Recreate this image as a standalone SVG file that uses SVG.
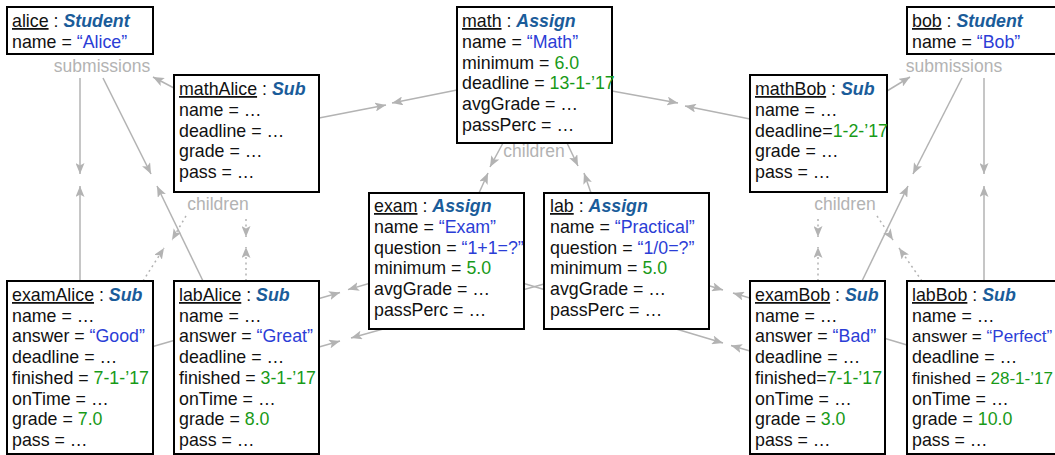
<svg xmlns="http://www.w3.org/2000/svg" width="1055" height="455" viewBox="0 0 1055 455">
<style>
.box{fill:#fff;stroke:#000;stroke-width:2}
text{font-family:"Liberation Sans",Arial,Helvetica,sans-serif;font-size:17.8px;fill:#111}
.sm{font-size:17.1px}
.cls{font-weight:bold;font-style:italic;fill:#1a5c9a}
.s{fill:#2b3dd6}
.n{fill:#189a18}
.u{text-decoration:underline}
.lbl{fill:#b3b3b3;text-anchor:middle;font-size:17.5px}
.c{stroke:#b3b3b3;stroke-width:1.5;fill:none;marker-end:url(#ah)}
.d{stroke-dasharray:2 3.5}
</style>
<defs>
<marker id="ah" markerUnits="userSpaceOnUse" markerWidth="12" markerHeight="9" refX="11" refY="4.5" orient="auto">
<path d="M0,0 L11,4.5 L0,9 L2.5,4.5 z" fill="#b3b3b3"/>
</marker>
</defs>
<rect width="1055" height="455" fill="#fff"/>
<g id="connectors">
<line class="c" x1="80" y1="78" x2="80" y2="174"/>
<line class="c" x1="80" y1="281" x2="80" y2="186"/>
<line class="c" x1="103" y1="78" x2="151" y2="174"/>
<line class="c" x1="203" y1="281" x2="157" y2="186"/>
<line class="c" x1="174" y1="88" x2="153" y2="77"/>
<line class="c" x1="984" y1="78" x2="984" y2="174"/>
<line class="c" x1="984" y1="281" x2="984" y2="186"/>
<line class="c" x1="962" y1="78" x2="913" y2="174"/>
<line class="c" x1="862" y1="281" x2="908" y2="186"/>
<line class="c" x1="887" y1="91" x2="910" y2="77"/>
<line class="c" x1="457" y1="90" x2="392" y2="103"/>
<line class="c" x1="319" y1="118" x2="386" y2="105"/>
<line class="c" x1="612" y1="91" x2="678" y2="103"/>
<line class="c" x1="750" y1="119" x2="685" y2="106"/>
<line class="c" x1="503" y1="143" x2="490" y2="167"/>
<line class="c" x1="479" y1="193" x2="488" y2="173"/>
<line class="c" x1="567" y1="143" x2="578" y2="166"/>
<line class="c" x1="591" y1="193" x2="584" y2="173"/>
<line class="c" x1="153" y1="346.5" x2="340" y2="292.5"/>
<line class="c" x1="369" y1="283.5" x2="348" y2="289.6"/>
<line class="c" x1="319" y1="347" x2="340" y2="341"/>
<line class="c" x1="544" y1="284" x2="351" y2="338"/>
<line class="c" x1="524" y1="283.5" x2="723" y2="343"/>
<line class="c" x1="750" y1="351" x2="731" y2="345.5"/>
<line class="c" x1="709" y1="285.8" x2="723" y2="290"/>
<line class="c" x1="907" y1="345" x2="733" y2="293"/>
<line class="c d" x1="246" y1="219" x2="246" y2="237"/>
<line class="c d" x1="246" y1="281" x2="246" y2="247"/>
<line class="c d" x1="186" y1="216" x2="172" y2="240"/>
<line class="c d" x1="143" y1="281" x2="164" y2="248"/>
<line class="c d" x1="818" y1="219" x2="818" y2="237"/>
<line class="c d" x1="818" y1="281" x2="818" y2="247"/>
<line class="c d" x1="877" y1="216" x2="893" y2="240"/>
<line class="c d" x1="922" y1="281" x2="899" y2="248"/>
<text class="lbl" x="102" y="72">submissions</text>
<text class="lbl" x="954" y="72">submissions</text>
<text class="lbl" x="534" y="157">children</text>
<text class="lbl" x="218" y="210">children</text>
<text class="lbl" x="845" y="210">children</text>
</g>
<g id="alice">
<rect class="box" x="7" y="7" width="146" height="47"/>
<text x="12" y="27"><tspan class="u">alice</tspan> : <tspan class="cls">Student</tspan></text>
<text x="12" y="47.5">name = <tspan class="s">“Alice”</tspan></text>
</g>
<g id="mathAlice">
<rect class="box" x="174" y="75" width="145" height="117"/>
<text x="179" y="95"><tspan class="u">mathAlice</tspan> : <tspan class="cls">Sub</tspan></text>
<text x="179" y="115.8">name = …</text>
<text x="179" y="136.6">deadline = …</text>
<text x="179" y="157.4">grade = …</text>
<text x="179" y="178.2">pass = …</text>
</g>
<g id="math">
<rect class="box" x="457" y="7" width="155" height="136"/>
<text x="462" y="27"><tspan class="u">math</tspan> : <tspan class="cls">Assign</tspan></text>
<text x="462" y="47.8">name = <tspan class="s">“Math”</tspan></text>
<text x="462" y="68.6">minimum = <tspan class="n">6.0</tspan></text>
<text x="462" y="89.4">deadline = <tspan class="n">13-1-’17</tspan></text>
<text x="462" y="110.2">avgGrade = …</text>
<text x="462" y="131">passPerc = …</text>
</g>
<g id="bob">
<rect class="box" x="907" y="7" width="152" height="47"/>
<text x="912" y="27"><tspan class="u">bob</tspan> : <tspan class="cls">Student</tspan></text>
<text x="912" y="47.5">name = <tspan class="s">“Bob”</tspan></text>
</g>
<g id="mathBob">
<rect class="box" x="750" y="75" width="137" height="117"/>
<text x="755" y="95"><tspan class="u">mathBob</tspan> : <tspan class="cls">Sub</tspan></text>
<text x="755" y="115.8">name = …</text>
<text x="755" y="136.6">deadline=<tspan class="n">1-2-’17</tspan></text>
<text x="755" y="157.4">grade = …</text>
<text x="755" y="178.2">pass = …</text>
</g>
<g id="exam">
<rect class="box" x="369" y="193" width="155" height="136"/>
<text x="374" y="212"><tspan class="u">exam</tspan> : <tspan class="cls">Assign</tspan></text>
<text x="374" y="232.8">name = <tspan class="s">“Exam”</tspan></text>
<text x="374" y="253.6">question = <tspan class="s">“1+1=?”</tspan></text>
<text x="374" y="274.4">minimum = <tspan class="n">5.0</tspan></text>
<text x="374" y="295.2">avgGrade = …</text>
<text x="374" y="316">passPerc = …</text>
</g>
<g id="lab">
<rect class="box" x="544" y="193" width="165" height="136"/>
<text x="550" y="212"><tspan class="u">lab</tspan> : <tspan class="cls">Assign</tspan></text>
<text x="550" y="232.8">name = <tspan class="s">“Practical”</tspan></text>
<text x="550" y="253.6">question = <tspan class="s">“1/0=?”</tspan></text>
<text x="550" y="274.4">minimum = <tspan class="n">5.0</tspan></text>
<text x="550" y="295.2">avgGrade = …</text>
<text x="550" y="316">passPerc = …</text>
</g>
<g id="examAlice">
<rect class="box" x="7" y="281" width="146" height="173"/>
<text x="12" y="301"><tspan class="u">examAlice</tspan> : <tspan class="cls">Sub</tspan></text>
<text x="12" y="321.7">name = …</text>
<text x="12" y="342.4">answer = <tspan class="s">“Good”</tspan></text>
<text x="12" y="363.1">deadline = …</text>
<text x="12" y="383.8">finished = <tspan class="n">7-1-’17</tspan></text>
<text x="12" y="404.5">onTime = …</text>
<text x="12" y="425.2">grade = <tspan class="n">7.0</tspan></text>
<text x="12" y="445.9">pass = …</text>
</g>
<g id="labAlice">
<rect class="box" x="174" y="281" width="145" height="173"/>
<text x="179" y="301"><tspan class="u">labAlice</tspan> : <tspan class="cls">Sub</tspan></text>
<text x="179" y="321.7">name = …</text>
<text x="179" y="342.4">answer = <tspan class="s">“Great”</tspan></text>
<text x="179" y="363.1">deadline = …</text>
<text x="179" y="383.8">finished = <tspan class="n">3-1-’17</tspan></text>
<text x="179" y="404.5">onTime = …</text>
<text x="179" y="425.2">grade = <tspan class="n">8.0</tspan></text>
<text x="179" y="445.9">pass = …</text>
</g>
<g id="examBob">
<rect class="box" x="750" y="281" width="135" height="173"/>
<text x="755" y="301"><tspan class="u">examBob</tspan> : <tspan class="cls">Sub</tspan></text>
<text x="755" y="321.7">name = …</text>
<text x="755" y="342.4">answer = <tspan class="s">“Bad”</tspan></text>
<text x="755" y="363.1">deadline = …</text>
<text x="755" y="383.8">finished=<tspan class="n">7-1-’17</tspan></text>
<text x="755" y="404.5">onTime = …</text>
<text x="755" y="425.2">grade = <tspan class="n">3.0</tspan></text>
<text x="755" y="445.9">pass = …</text>
</g>
<g id="labBob">
<rect class="box" x="907" y="281" width="152" height="173"/>
<text x="912" y="301"><tspan class="u">labBob</tspan> : <tspan class="cls">Sub</tspan></text>
<text x="912" y="321.7">name = …</text>
<text class="sm" x="912" y="342.4">answer = <tspan class="s">“Perfect”</tspan></text>
<text x="912" y="363.1">deadline = …</text>
<text class="sm" x="912" y="383.8">finished = <tspan class="n">28-1-’17</tspan></text>
<text x="912" y="404.5">onTime = …</text>
<text x="912" y="425.2">grade = <tspan class="n">10.0</tspan></text>
<text x="912" y="445.9">pass = …</text>
</g>
</svg>
